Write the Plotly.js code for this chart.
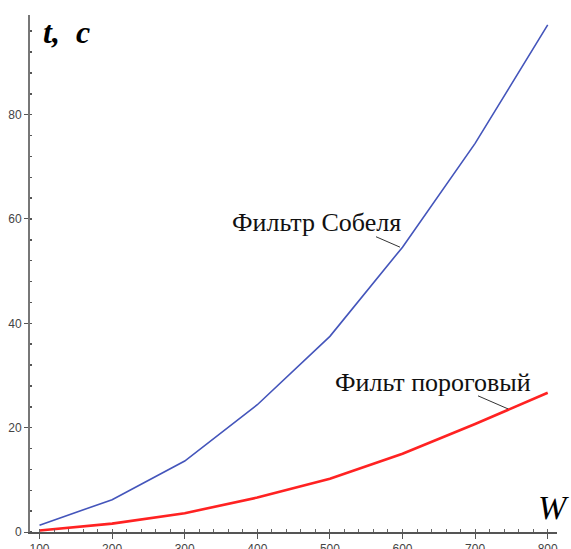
<!DOCTYPE html>
<html>
<head>
<meta charset="utf-8">
<script src="https://cdn.plot.ly/plotly-3.0.1.min.js"></script>
<style>html,body{margin:0;padding:0;background:#fff;}#chart{width:571px;height:549px;}</style>
</head>
<body>
<div id="chart"></div>
<script>
// Data
const W = [100, 200, 300, 400, 500, 600, 700, 800];
const sobel = [1.3, 6.2, 13.6, 24.4, 37.5, 54.6, 74.5, 97.2];
const threshold = [0.3, 1.6, 3.6, 6.6, 10.2, 15.0, 20.7, 26.7];
const labelSobel = 'Фильтр Собеля';
const labelThreshold = 'Фильт пороговый';
const yTitle = 't,&nbsp;&nbsp;c';
const xTitle = 'W';

const serif = 'Liberation Serif';

const traces = [
  {x: W, y: sobel, mode: 'lines', line: {color: '#4455bb', width: 1.6}, hoverinfo: 'skip'},
  {x: W, y: threshold, mode: 'lines', line: {color: '#ff2222', width: 2.6}, hoverinfo: 'skip'}
];

const layout = {
  width: 571, height: 549,
  margin: {l: 30, r: 14, t: 15, b: 17, pad: 0},
  paper_bgcolor: '#fff', plot_bgcolor: '#fff',
  showlegend: false,
  xaxis: {
    range: [86.9, 812.8], showgrid: false, zeroline: false,
    showline: true, linecolor: '#555', linewidth: 1.5,
    tickmode: 'array', tickvals: W, ticktext: W.map(String),
    ticks: 'outside', ticklen: 5, tickcolor: '#555', tickwidth: 1,
    tickfont: {family: 'Liberation Sans', size: 12, color: '#444'},
    minor: {dtick: 20, ticks: 'inside', ticklen: 3, tickcolor: '#666', tickwidth: 1},
    fixedrange: true
  },
  yaxis: {
    range: [0, 99.1], showgrid: false, zeroline: false,
    showline: true, linecolor: '#777', linewidth: 2,
    tickmode: 'linear', tick0: 0, dtick: 20,
    ticks: 'outside', ticklen: 4, tickcolor: '#555', tickwidth: 1,
    tickfont: {family: 'Liberation Sans', size: 12, color: '#444'},
    minor: {dtick: 4, ticks: 'inside', ticklen: 2, tickcolor: '#555', tickwidth: 1.5},
    fixedrange: true
  },
  shapes: [
    {type: 'line', xref: 'x', yref: 'y', x0: 563.5, y0: 56.6, x1: 596.5, y1: 54.6, line: {color: '#333', width: 1}},
    {type: 'line', xref: 'x', yref: 'y', x0: 704, y0: 26.1, x1: 745.3, y1: 23.6, line: {color: '#333', width: 1}}
  ],
  annotations: [
    {text: labelSobel, xref: 'paper', yref: 'paper', x: (316 - 30) / 527, y: (532 - 222) / 517,
     xanchor: 'center', yanchor: 'middle', showarrow: false,
     font: {family: serif, size: 26, color: '#111'}},
    {text: labelThreshold, xref: 'paper', yref: 'paper', x: (433 - 30) / 527, y: (532 - 382) / 517,
     xanchor: 'center', yanchor: 'middle', showarrow: false,
     font: {family: serif, size: 26, color: '#111'}},
    {text: '<b><i>' + yTitle + '</i></b>', xref: 'paper', yref: 'paper', x: (41 - 30) / 527, y: (532 - 32) / 517,
     xanchor: 'left', yanchor: 'middle', showarrow: false,
     font: {family: serif, size: 32, color: '#000'}},
    {text: '<i>' + xTitle + '</i>', xref: 'paper', yref: 'paper', x: (553 - 30) / 527, y: (532 - 507) / 517,
     xanchor: 'center', yanchor: 'middle', showarrow: false,
     font: {family: serif, size: 34, color: '#000'}}
  ]
};

Plotly.newPlot('chart', traces, layout, {displayModeBar: false, staticPlot: true});
</script>
</body>
</html>
